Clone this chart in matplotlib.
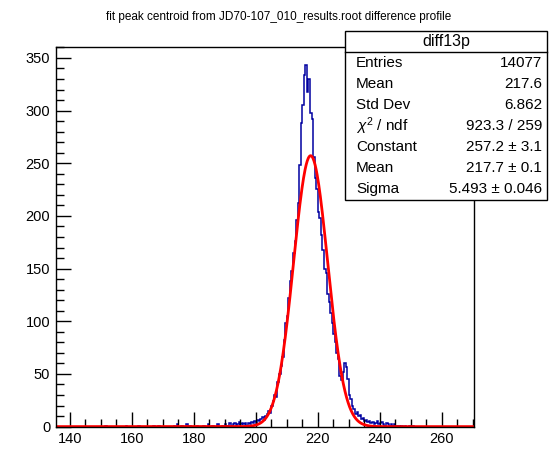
import numpy as np
import matplotlib
matplotlib.use("Agg")
import matplotlib.pyplot as plt
from matplotlib.ticker import MultipleLocator
from matplotlib.patches import Rectangle

plt.rcParams['font.family'] = ['Liberation Sans', 'DejaVu Sans']
plt.rcParams['mathtext.fontset'] = 'custom'
plt.rcParams['mathtext.rm'] = 'Liberation Sans'
plt.rcParams['mathtext.it'] = 'Liberation Sans:italic'

title = "fit peak centroid from JD70-107_010_results.root difference profile"

# histogram binning (0.5 wide bins)
x_lo, x_hi, bin_w = 135.5, 270.5, 0.5

# core region bin contents, bins starting at 196.0
core_start = 196.0
core_counts = [
    2, 3, 1, 3, 2, 4, 3, 5, 3, 6, 5, 7, 9, 6, 10, 12, 15, 13, 20, 24,
    30, 28, 42, 50, 58, 66, 82, 98, 105, 122, 138, 148, 165, 176, 196, 212,
    248, 288, 305, 334, 343, 318, 330, 298, 292, 256, 236, 226, 204, 198,
    182, 168, 150, 146, 126, 118, 108, 98, 88, 80, 70, 64, 48, 44, 52, 60,
    57, 45, 30, 26, 20, 17, 12, 14, 10, 11, 7, 8, 5, 6, 4, 5, 3, 4, 2, 3,
    5, 2, 3, 4, 2, 1, 3, 2, 1, 2, 1, 2, 0, 1, 1, 0, 1, 0, 1, 0, 0, 1, 0, 1,
    0, 0,
]

# sparse low-side tail (bin centre -> content)
tail_centres = [151.75, 158.25, 162.25, 167.25, 168.75, 173.75, 174.75, 176.25,
                177.75, 178.75, 181.25, 183.25, 184.75, 186.25, 187.75, 189.25,
                190.25, 190.75, 191.75, 192.25, 192.75, 193.25, 193.75, 194.25,
                194.75, 195.25, 195.75]
tail_counts = [1, 1, 1, 1, 1, 1, 2, 1, 2, 1, 1, 1, 2, 1, 2, 1,
               2, 1, 3, 1, 2, 3, 1, 2, 4, 2, 3]

# gaussian fit parameters from the stats box
fit_const, fit_mean, fit_sigma = 257.2, 217.7, 5.493

stats_rows = [
    ("Entries", "14077"),
    ("Mean", "217.6"),
    ("Std Dev", "6.862"),
    (r"$\chi^{2}$ / ndf", "923.3 / 259"),
    ("Constant", "257.2 ± 3.1"),
    ("Mean", "217.7 ± 0.1"),
    ("Sigma", "5.493 ± 0.046"),
]

edges = np.arange(x_lo, x_hi + bin_w / 2, bin_w)
counts = np.zeros(len(edges) - 1)
i0 = int(round((core_start - x_lo) / bin_w))
counts[i0:i0 + len(core_counts)] = core_counts
for c, n in zip(tail_centres, tail_counts):
    counts[int((c - x_lo) // bin_w)] = n

fig = plt.figure(figsize=(5.58, 4.74), dpi=100)
ax = fig.add_axes([0.1, 0.1, 0.75, 0.8])

ax.stairs(counts, edges, color='#0000a0', lw=1.1)
xf = np.linspace(x_lo, x_hi, 800)
yf = fit_const * np.exp(-0.5 * ((xf - fit_mean) / fit_sigma) ** 2)
ax.plot(xf, yf, color='#ff0000', lw=2.0)

ax.set_xlim(x_lo, x_hi)
ax.set_ylim(0, 360)
ax.xaxis.set_major_locator(MultipleLocator(20))
ax.xaxis.set_minor_locator(MultipleLocator(5))
ax.yaxis.set_major_locator(MultipleLocator(50))
ax.yaxis.set_minor_locator(MultipleLocator(10))
ax.tick_params(which='both', direction='in', top=False, right=False, width=1,
               labelsize=10.5)
ax.tick_params(which='major', length=11, pad=4)
ax.tick_params(which='minor', length=5.5)
for s in ax.spines.values():
    s.set_linewidth(1)

fig.text(0.5, 1 - 17 / 474, title, ha='center', va='center', fontsize=8.5)

# stats box
bx0, bx1 = 345 / 558, 547 / 558
by1, by0 = 1 - 31 / 474, 1 - 200 / 474
hdr = 1 - 52 / 474
fig.patches.append(Rectangle((bx0, by0), bx1 - bx0, by1 - by0, transform=fig.transFigure,
                             facecolor='white', edgecolor='black', lw=1, zorder=5))
fig.lines.append(plt.Line2D([bx0, bx1], [hdr, hdr], transform=fig.transFigure,
                            color='black', lw=1, zorder=6))
fig.text((bx0 + bx1) / 2, (by1 + hdr) / 2, "diff13p", ha='center', va='center',
         fontsize=11.5, zorder=7)
row_h = (hdr - by0) / len(stats_rows)
for k, (lab, val) in enumerate(stats_rows):
    yy = hdr - (k + 0.5) * row_h
    fig.text(bx0 + 11 / 558, yy, lab, ha='left', va='center', fontsize=11, zorder=7)
    fig.text(bx1 - 5 / 558, yy, val, ha='right', va='center', fontsize=11, zorder=7)

fig.savefig("out.png", dpi=100)
